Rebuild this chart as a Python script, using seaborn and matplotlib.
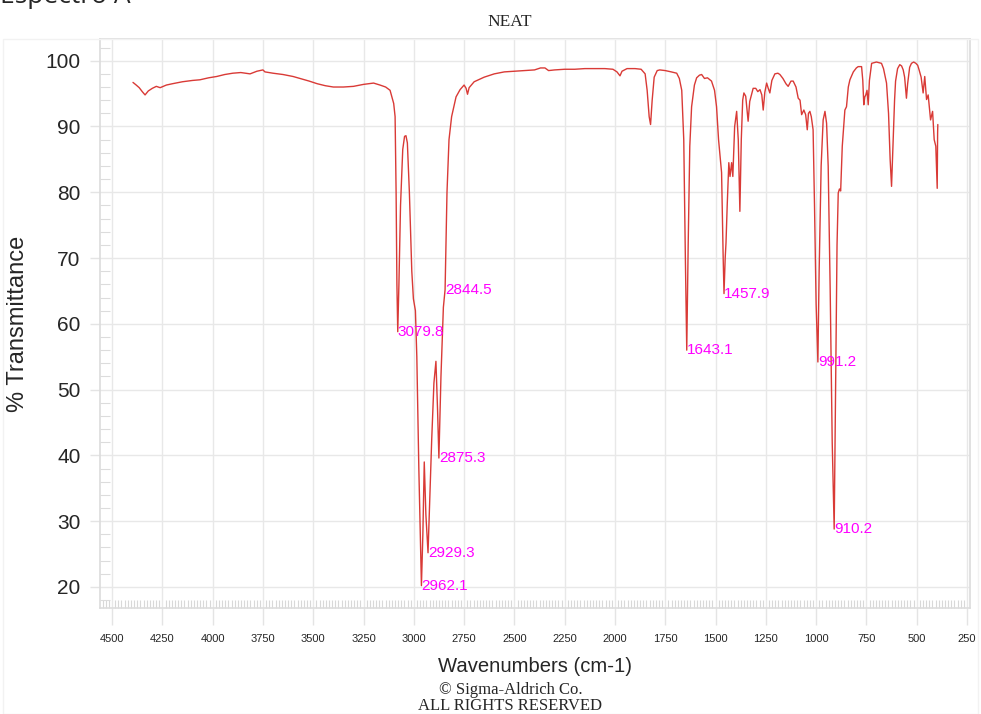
import numpy as np
import pandas as pd
import seaborn as sns
import matplotlib.pyplot as plt
from matplotlib.ticker import MultipleLocator
from matplotlib.patches import Rectangle

# espectro IR (numero de onda cm-1, % transmitancia)
wavenumber = [
    4396, 4380, 4365, 4350, 4336, 4320, 4300, 4280, 4261, 4230, 4200, 4150, 4100, 4063,
    4020, 3980, 3940, 3900, 3860, 3814, 3780, 3750, 3740, 3700, 3650, 3600, 3566, 3520,
    3480, 3440, 3400, 3350, 3300, 3250, 3200, 3168, 3140, 3118, 3100, 3093, 3088, 3084,
    3079.8, 3074, 3066, 3055, 3046, 3039, 3032, 3022, 3010, 3002, 2992, 2985, 2975,
    2962.1, 2955, 2948, 2940, 2929.3, 2920, 2911, 2900, 2890, 2882, 2875.3, 2865, 2853,
    2844.5, 2835, 2825, 2812, 2790, 2770, 2750, 2740, 2733, 2725, 2700, 2650, 2600, 2550,
    2500, 2450, 2400, 2370, 2348, 2330, 2300, 2250, 2200, 2150, 2100, 2050, 2010, 1990,
    1975, 1965, 1940, 1900, 1870, 1850, 1840, 1830, 1823, 1815, 1805, 1790, 1777, 1750,
    1720, 1693, 1680, 1668, 1658, 1650, 1643.1, 1636, 1628, 1619, 1605, 1594, 1580, 1569,
    1555, 1540, 1520, 1505, 1495, 1485, 1470, 1462, 1457.9, 1452, 1448, 1442, 1434, 1428,
    1420, 1414, 1405, 1395, 1387, 1379, 1372, 1365, 1359, 1350, 1338, 1330, 1313, 1300,
    1290, 1279, 1270, 1263, 1255, 1246, 1238, 1230, 1220, 1205, 1190, 1180, 1165, 1150,
    1139, 1125, 1114, 1100, 1089, 1080, 1072, 1061, 1052, 1044, 1038, 1031, 1024, 1015,
    1008, 1000, 991.2, 985, 975, 965, 956, 948, 940, 930, 920, 910.2, 903, 896, 890, 884,
    878, 870, 857, 849, 840, 832, 815, 800, 791, 774, 768, 763, 758, 753, 747, 741, 735,
    724, 700, 675, 665, 650, 640, 632, 625, 618, 610, 605, 595, 584, 575, 567, 560, 551,
    545, 535, 526, 515, 504, 495, 488, 478, 468, 460, 451, 443, 436, 431, 421, 413, 405,
    398, 396, 395,
]
transmittance = [
    96.7, 96.3, 95.9, 95.3, 94.8, 95.4, 95.8, 96.1, 95.9, 96.3, 96.5, 96.8, 97.0, 97.1,
    97.4, 97.6, 97.9, 98.1, 98.2, 98.0, 98.4, 98.6, 98.3, 98.1, 97.9, 97.6, 97.3, 96.9,
    96.5, 96.2, 96.0, 96.0, 96.1, 96.4, 96.6, 96.3, 96.0, 95.5, 93.5, 91.5, 80.0, 66.0,
    58.8, 66.0, 78.0, 86.5, 88.5, 88.6, 87.5, 80.0, 68.0, 63.8, 62.0, 55.0, 38.0,
    20.2, 28.0, 39.0, 31.0, 25.2, 34.0, 42.4, 51.0, 54.3, 47.0, 39.6, 52.0, 62.5,
    65.2, 80.0, 88.0, 91.5, 94.5, 95.6, 96.3, 95.8, 94.9, 95.9, 96.8, 97.5, 98.0, 98.3,
    98.4, 98.5, 98.6, 98.9, 98.9, 98.5, 98.6, 98.7, 98.7, 98.8, 98.8, 98.8, 98.7, 98.3,
    97.7, 98.4, 98.8, 98.8, 98.7, 98.0, 95.5, 91.5, 90.3, 94.0, 97.5, 98.5, 98.6, 98.5,
    98.3, 98.1, 97.3, 95.5, 88.0, 70.0, 56.0, 72.0, 87.0, 93.0, 96.3, 97.4, 97.8, 97.9,
    97.3, 97.4, 96.9, 95.5, 93.0, 88.0, 83.0, 70.0, 64.6, 70.0, 72.3, 78.0, 84.5, 82.4,
    84.5, 82.4, 90.0, 92.3, 88.0, 77.1, 88.0, 94.0, 95.1, 94.6, 90.8, 93.8, 95.8, 95.8,
    95.3, 95.6, 94.8, 92.5, 95.2, 96.6, 95.8, 95.1, 97.0, 98.0, 98.1, 97.9, 97.3, 96.5,
    96.1, 96.9, 96.9, 96.0, 94.3, 94.0, 91.8, 92.5, 91.8, 89.5, 92.0, 92.3, 91.5, 89.5,
    78.0, 63.0, 54.2, 68.0, 84.0, 91.0, 92.3, 90.5, 84.0, 65.0, 42.0, 28.8, 50.0, 72.0,
    79.9, 80.5, 80.2, 87.0, 92.5, 93.0, 96.0, 97.1, 98.3, 98.9, 99.1, 99.1, 97.0, 93.3,
    94.5, 94.8, 95.5, 93.3, 97.0, 99.6, 99.8, 99.6, 98.8, 96.6, 92.0, 85.0, 80.9, 87.0,
    94.0, 96.9, 98.8, 99.4, 99.2, 98.6, 97.5, 94.3, 96.5, 99.0, 99.6, 99.8, 99.6, 99.3,
    98.6, 97.5, 95.1, 97.6, 94.1, 94.8, 92.5, 91.0, 92.3, 88.0, 87.0, 80.6, 89.0, 90.3,
]

# picos marcados
peak_wn = [3079.8, 2962.1, 2929.3, 2875.3, 2844.5, 1643.1, 1457.9, 991.2, 910.2]
peak_t = [58.8, 20.2, 25.2, 39.6, 65.2, 56.0, 64.6, 54.2, 28.8]
peak_labels = ["3079.8", "2962.1", "2929.3", "2875.3", "2844.5", "1643.1", "1457.9", "991.2", "910.2"]

df = pd.DataFrame({"wn": wavenumber, "T": transmittance})

sns.set_theme(style="white")
plt.rcParams["font.family"] = ["Liberation Sans", "DejaVu Sans"]

fig = plt.figure(figsize=(9.81, 7.14), dpi=100)
ax = fig.add_axes([100 / 981, 1 - 608 / 714, 870 / 981, 569 / 714])

sns.lineplot(data=df, x="wn", y="T", sort=False, estimator=None,
             color="#d93a36", linewidth=1.0, ax=ax)

for w, t, lab in zip(peak_wn, peak_t, peak_labels):
    ax.text(w, t, lab, color="#ff00ff", fontsize=11, ha="left", va="center")

ax.set_xlim(4560, 235)
ax.set_ylim(16.8, 103.3)
ax.xaxis.set_major_locator(MultipleLocator(250))
ax.xaxis.set_minor_locator(MultipleLocator(250 / 16))
ax.yaxis.set_major_locator(MultipleLocator(10))
ax.yaxis.set_minor_locator(MultipleLocator(2))

ax.grid(True, which="major", color="#e8e8e8", linewidth=1)
for s in ax.spines.values():
    s.set_color("#dcdcdc")
    s.set_linewidth(1.2)

ax.tick_params(axis="x", which="major", direction="out", length=12, width=1,
               color="#e4e4e4", pad=7, labelsize=8, bottom=True)
ax.tick_params(axis="x", which="minor", direction="in", length=6, width=0.8,
               color="#d8d8d8", bottom=True)
ax.tick_params(axis="y", which="major", direction="out", length=7, width=1,
               color="#e4e4e4", pad=7, labelsize=15, left=True)
ax.tick_params(axis="y", which="minor", direction="in", length=7, width=0.8,
               color="#dcdcdc", left=True)
for lab in ax.get_xticklabels():
    lab.set_family(["Liberation Sans Narrow", "Liberation Sans"])

ax.set_xlabel("")
ax.set_ylabel("% Transmittance", fontsize=17, labelpad=12)

fig.text(535 / 981, 1 - 667 / 714, "Wavenumbers (cm-1)", fontsize=14.6,
         ha="center", va="center")
fig.text(510 / 981, 1 - 22 / 714, "NEAT", fontsize=12.5, ha="center", va="center",
         family=["Liberation Serif", "DejaVu Serif"])
fig.text(511 / 981, 1 - 690 / 714, "\u00a9 Sigma-Aldrich Co.", fontsize=12,
         ha="center", va="center", family=["Liberation Serif", "DejaVu Serif"])
fig.text(510 / 981, 1 - 706 / 714, "ALL RIGHTS RESERVED", fontsize=12,
         ha="center", va="center", family=["Liberation Serif", "DejaVu Serif"])
fig.text(0.0, 1 - 3 / 714, "Espectro A", fontsize=19, ha="left", va="baseline",
         family=["Open Sans", "DejaVu Sans"])

fig.patches.append(Rectangle((3 / 981, 0), 975 / 981, 1 - 39 / 714,
                             transform=fig.transFigure, fill=False,
                             edgecolor="#f2f2f2", linewidth=1, zorder=0))

fig.savefig("out.png", dpi=100)
